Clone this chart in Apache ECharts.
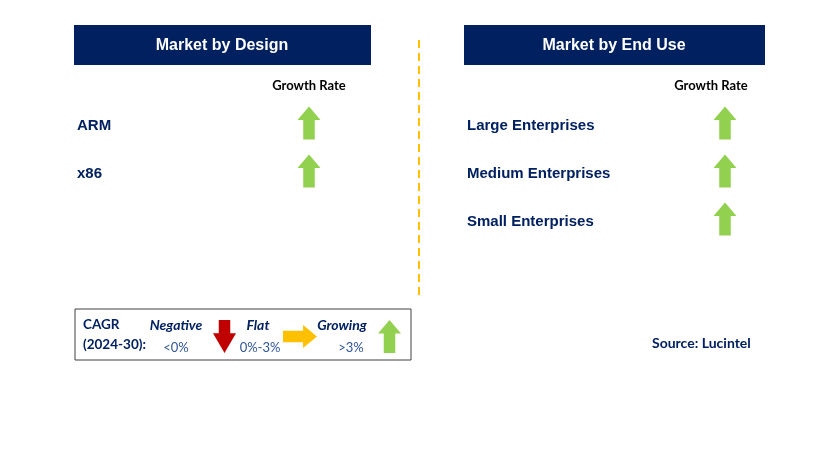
<!DOCTYPE html>
<html>
<head>
<meta charset="utf-8">
<script src="https://cdn.jsdelivr.net/npm/echarts@6/dist/echarts.min.js"></script>
<style>
  html, body { margin: 0; padding: 0; background: #fff; }
  #chart { width: 829px; height: 460px; }
</style>
</head>
<body>
<div id="chart"></div>
<script>
// segments and their growth direction
var designSegments = ['ARM', 'x86'];
var designGrowth = ['up', 'up'];
var endUseSegments = ['Large Enterprises', 'Medium Enterprises', 'Small Enterprises'];
var endUseGrowth = ['up', 'up', 'up'];
var columnLabels = ['Growth Rate'];

var NAVY = '#002060';
var GREEN = '#92D050';
var RED = '#C00000';
var AMBER = '#FFC000';

var arrowSymbol = {
  up: 'path://M12,0 L24,14 L18,14 L18,34 L6,34 L6,14 L0,14 Z',
  down: 'path://M6,0 L18,0 L18,14 L24,14 L12,34 L0,14 L6,14 Z',
  flat: 'path://M0,6 L20,6 L20,0 L34,12 L20,24 L20,18 L0,18 Z'
};
var arrowColor = { up: GREEN, down: RED, flat: AMBER };

function panelAxes(gridIdx, cats, labelMargin, labelPad) {
  return {
    x: {
      type: 'category', gridIndex: gridIdx, position: 'top', data: columnLabels,
      axisLine: { show: false }, axisTick: { show: false }, splitLine: { show: false },
      axisLabel: { margin: 10, color: '#000', fontFamily: 'Lato', fontWeight: 'bold', fontSize: 13, padding: labelPad }
    },
    y: {
      type: 'category', gridIndex: gridIdx, inverse: true, data: cats,
      axisLine: { show: false }, axisTick: { show: false }, splitLine: { show: false },
      axisLabel: { margin: labelMargin, align: 'left', color: NAVY, fontFamily: 'Liberation Sans', fontWeight: 'bold', fontSize: 15 }
    }
  };
}

function arrowSeries(gridIdx, cats, growth) {
  return {
    type: 'scatter', xAxisIndex: gridIdx, yAxisIndex: gridIdx,
    symbolSize: [23, 33],
    symbolOffset: [0, -3],
    silent: true,
    data: cats.map(function (c, i) {
      return {
        value: [columnLabels[0], c],
        symbol: arrowSymbol[growth[i]],
        itemStyle: { color: arrowColor[growth[i]], opacity: 1 }
      };
    })
  };
}

var left = panelAxes(0, designSegments, 185, [0, 0, 0, 0]);
var right = panelAxes(1, endUseSegments, 233, [0, 28, 0, 0]);

function txt(x, y, text, style) {
  return {
    type: 'text', x: x, y: y, silent: true,
    style: Object.assign({ text: text, fill: NAVY, fontFamily: 'Lato', fontSize: 13, fontWeight: 'bold', verticalAlign: 'middle', align: 'left' }, style || {})
  };
}

// key arrows as polygons (x, y = top-left, w, h)
function keyArrow(dir, x, y, w, h, color) {
  var pts;
  if (dir === 'up') {
    pts = [[0.5, 0], [1, 0.41], [0.75, 0.41], [0.75, 1], [0.25, 1], [0.25, 0.41], [0, 0.41]];
  } else if (dir === 'down') {
    pts = [[0.25, 0], [0.75, 0], [0.75, 0.4], [1, 0.4], [0.5, 1], [0, 0.4], [0.25, 0.4]];
  } else {
    pts = [[0, 0.25], [0.59, 0.25], [0.59, 0], [1, 0.5], [0.59, 1], [0.59, 0.75], [0, 0.75]];
  }
  return {
    type: 'polygon', silent: true,
    shape: { points: pts.map(function (p) { return [x + p[0] * w, y + p[1] * h]; }) },
    style: { fill: color }
  };
}

var option = {
  animation: false,
  grid: [
    { left: 262, top: 102, width: 94, height: 96 },
    { left: 700, top: 102, width: 50, height: 144 }
  ],
  xAxis: [left.x, right.x],
  yAxis: [left.y, right.y],
  series: [
    arrowSeries(0, designSegments, designGrowth),
    arrowSeries(1, endUseSegments, endUseGrowth)
  ],
  graphic: [
    // headers
    { type: 'rect', shape: { x: 74, y: 25, width: 297, height: 40 }, style: { fill: NAVY }, silent: true },
    txt(222, 46, 'Market by Design', { fill: '#fff', fontFamily: 'Liberation Sans', fontSize: 16, align: 'center' }),
    { type: 'rect', shape: { x: 464, y: 25, width: 301, height: 40 }, style: { fill: NAVY }, silent: true },
    txt(614, 46, 'Market by End Use', { fill: '#fff', fontFamily: 'Liberation Sans', fontSize: 16, align: 'center' }),
    // divider
    { type: 'line', shape: { x1: 419, y1: 40, x2: 419, y2: 298 }, style: { stroke: AMBER, lineWidth: 2, lineDash: [8, 5] }, silent: true },
    // key box
    { type: 'rect', shape: { x: 75, y: 309, width: 336, height: 51 }, style: { fill: 'none', stroke: '#404040', lineWidth: 1 }, silent: true },
    txt(83, 325, 'CAGR', { fontSize: 13.5 }),
    txt(83, 345, '(2024-30):', { fontSize: 13.5 }),
    txt(176, 325, 'Negative', { align: 'center', fontStyle: 'italic', fontSize: 14 }),
    txt(176, 348, '<0%', { align: 'center', fontWeight: 'normal', fill: '#2F5597', fontSize: 13 }),
    keyArrow('down', 213, 320, 23, 33, RED),
    txt(258, 325, 'Flat', { align: 'center', fontStyle: 'italic', fontSize: 14 }),
    txt(260, 348, '0%-3%', { align: 'center', fontWeight: 'normal', fill: '#2F5597', fontSize: 13 }),
    keyArrow('flat', 283, 325, 34, 23, AMBER),
    txt(342, 325, 'Growing', { align: 'center', fontStyle: 'italic', fontSize: 14 }),
    txt(351, 348, '>3%', { align: 'center', fontWeight: 'normal', fill: '#2F5597', fontSize: 13 }),
    keyArrow('up', 378, 320, 23, 33, GREEN),
    // source
    txt(652, 343, 'Source: Lucintel', { fontSize: 14 })
  ]
};

var chart = echarts.init(document.getElementById('chart'));
chart.setOption(option);
</script>
</body>
</html>
